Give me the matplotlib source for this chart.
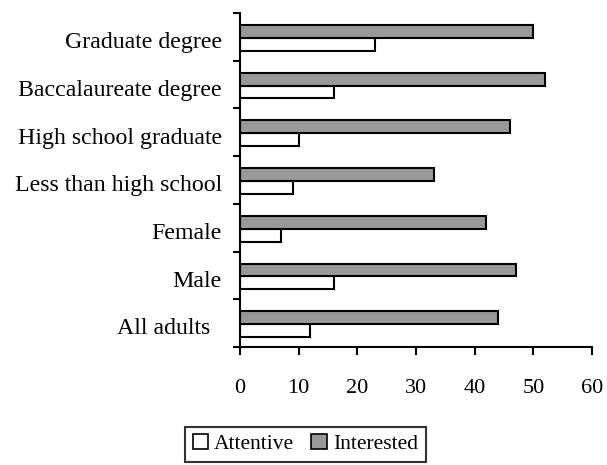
import numpy as np
import matplotlib.pyplot as plt
from matplotlib.patches import Patch

# survey groups, bottom to top
groups = ["All adults  ", "Male", "Female", "Less than high school",
          "High school graduate", "Baccalaureate degree", "Graduate degree"]
attentive = [12, 16, 7, 9, 10, 16, 23]
interested = [44, 47, 42, 33, 46, 52, 50]

plt.rcParams['font.family'] = ['Liberation Serif', 'DejaVu Serif']

fig = plt.figure(figsize=(6.07, 4.65), dpi=100)
ax = fig.add_axes([240 / 607, 1 - 347 / 465, 352 / 607, 334 / 465])

y = np.arange(len(groups))
h = 0.27
ax.barh(y - h / 2 - 0.02, attentive, height=h, color='white',
        edgecolor='black', linewidth=1.5)
ax.barh(y + h / 2 - 0.02, interested, height=h, color='#999999',
        edgecolor='black', linewidth=1.5)

ax.set_xlim(0, 60)
ax.set_ylim(-0.5, len(groups) - 0.5)
ax.set_xticks(range(0, 61, 10))
ax.tick_params(axis='x', length=6, width=1.5, pad=17, labelsize=16)

# boundary ticks between groups, labels near group centres
ax.set_yticks(np.arange(-0.5, len(groups), 1.0))
ax.set_yticklabels([])
ax.tick_params(axis='y', which='major', length=5, width=1.5)
ax.set_yticks(y - 0.07, minor=True)
ax.set_yticklabels(groups, minor=True, fontsize=17.2)
ax.tick_params(axis='y', which='minor', length=0, pad=13)

for side in ['top', 'right']:
    ax.spines[side].set_visible(False)
for side in ['left', 'bottom']:
    ax.spines[side].set_linewidth(1.5)

handles = [Patch(facecolor='white', edgecolor='black', linewidth=1.2, label='Attentive'),
           Patch(facecolor='#999999', edgecolor='black', linewidth=1.2, label='Interested')]
leg = fig.legend(handles=handles, loc='upper center', bbox_to_anchor=(0.503, 0.082),
                 ncol=2, fontsize=15.5, frameon=True, fancybox=False,
                 handlelength=0.7, handleheight=0.7, handletextpad=0.3,
                 columnspacing=0.8, borderpad=0.35, borderaxespad=0)
leg.get_frame().set_edgecolor('black')
leg.get_frame().set_linewidth(1.5)

fig.savefig('out.png', dpi=100)
